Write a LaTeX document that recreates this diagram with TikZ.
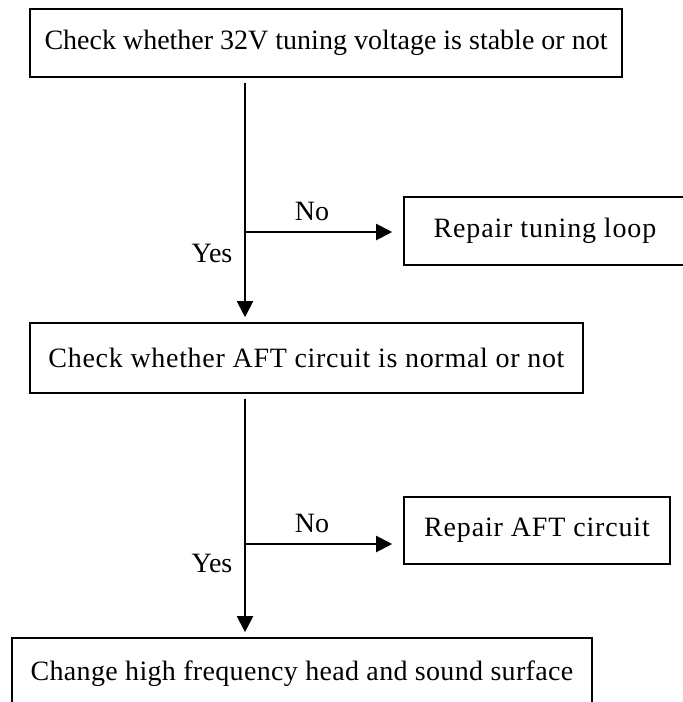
\documentclass[tikz,border=0pt]{standalone}
\usepackage{fontspec}
\setmainfont{Liberation Serif}
\usetikzlibrary{arrows.meta}
\begin{document}
\begin{tikzpicture}[x=1pt,y=-1pt]
\tikzstyle{box}=[draw,line width=1.6pt,rectangle,inner sep=0pt,font=\fontsize{28}{34}\selectfont]
\tikzstyle{flow}=[->,>={Triangle[length=16pt,width=16pt]},line width=2pt]
\tikzstyle{lbl}=[inner sep=0pt,font=\fontsize{28}{34}\selectfont]
\useasboundingbox (0,0) rectangle (683,702);

% the line that runs down the left
\coordinate (spine) at (245,0);

% Step 1: tuning voltage
\node[box,minimum width=592,minimum height=68] (chkvolt) at (326,43) {Check whether 32V tuning voltage is stable or not};
\node[box,minimum width=282,minimum height=68,font=\fontsize{28}{34}\selectfont\addfontfeature{LetterSpace=3}] (fixloop) at (545,231) {Repair tuning loop};
\coordinate (j1) at (245,232);
\draw[flow] (j1) -- (j1 -| fixloop.west) [shorten >=11pt];
\node[lbl] (no1) at (312,211) {No};
\node[lbl] (yes1) at (212,253) {Yes};

% Step 2: AFT circuit
\node[box,minimum width=553,minimum height=70,font=\fontsize{28}{34}\selectfont\addfontfeature{LetterSpace=2.5}] (chkaft) at (306.5,358) {Check whether AFT circuit is normal or not};
\draw[flow,shorten <=5pt,shorten >=5pt] (chkvolt.south -| spine) -- (chkaft.north -| spine);
\node[box,minimum width=266,minimum height=67,font=\fontsize{28}{34}\selectfont\addfontfeature{LetterSpace=3}] (fixaft) at (537,530.5) {Repair AFT circuit};
\coordinate (j2) at (245,544);
\draw[flow] (j2) -- (j2 -| fixaft.west) [shorten >=11pt];
\node[lbl] (no2) at (312,523) {No};
\node[lbl] (yes2) at (212,563) {Yes};

% Step 3: change the head
\node[box,minimum width=580,minimum height=72,font=\fontsize{28}{34}\selectfont\addfontfeature{LetterSpace=1.2}] (change) at (302,674) {Change high frequency head and sound surface};
\draw[flow,shorten <=5pt,shorten >=5pt] (chkaft.south -| spine) -- (change.north -| spine);
\end{tikzpicture}
\end{document}
